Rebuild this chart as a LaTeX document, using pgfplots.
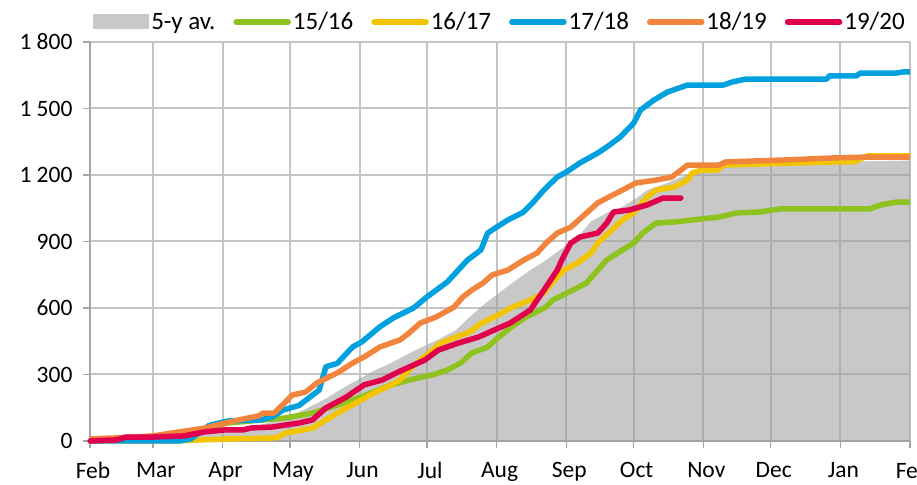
\documentclass[border=0pt]{standalone}
\usepackage{pgfplots}
\pgfplotsset{compat=1.18}
\usepackage{fontspec}
\setmainfont{Carlito}
\definecolor{cgreen}{RGB}{141,194,31}
\definecolor{cyellow}{RGB}{242,197,0}
\definecolor{cblue}{RGB}{0,161,222}
\definecolor{corange}{RGB}{241,133,61}
\definecolor{cred}{RGB}{224,0,77}
\definecolor{cavg}{RGB}{161,161,161}
\definecolor{cavgleg}{RGB}{200,200,200}
\definecolor{cgrid}{RGB}{196,196,196}
\definecolor{caxis}{RGB}{165,165,165}
\pgfplotsset{mylineleg/.style={legend image code/.code={\draw[line width=5.5pt, line cap=round] (2pt,0pt) -- (54pt,0pt);}}}
\begin{document}
\begin{tikzpicture}
\begin{axis}[
  scale only axis, width=820pt, height=399pt,
  xmin=0, xmax=365, ymin=0, ymax=1800,
  clip=false,
  axis lines*=left, axis line style={-, color=caxis, line width=1.5pt},
  grid=major, major grid style={color=cgrid, line width=2pt},
  tick align=outside, major tick length=7pt,
  tick style={color=caxis, line width=1.5pt},
  xtick={0,28,59,89,120,150,181,212,242,273,303,334,365},
  xticklabels={Feb,Mar,Apr,May,Jun,Jul,Aug,Sep,Oct,Nov,Dec,Jan,Feb},
  ytick={0,300,600,900,1200,1500,1800},
  yticklabels={0,300,600,900,1 200,1 500,1 800},
  ticklabel style={font=\fontsize{23.5}{26}\selectfont},
  xticklabel style={yshift=-11pt, xshift=3pt},
  yticklabel style={xshift=-7pt},
  legend columns=6,
  legend style={draw=none, fill=none, at={(0.5,1.05)}, anchor=center,
    font=\fontsize{25}{27}\selectfont, inner sep=0pt,
    /tikz/every even column/.append style={column sep=16pt},
    nodes={inner sep=2pt}},
]
\coordinate (bl) at (rel axis cs:0,0);
\coordinate (tr) at (rel axis cs:1,1);
\addplot[draw=none, fill=cavg, fill opacity=0.585,
  legend image code/.code={\fill[cavgleg, fill opacity=1] (0pt,-7pt) rectangle (56pt,8pt);}]
coordinates {(0,0) (15,5) (28,12) (45,25) (58,40) (75,70) (89,110) (97,150) (104,185) (112,235) (119,275) (126,315) (134,352) (141,390) (148,424) (156,462) (163,501) (168,550) (174,604) (181,660) (188,713) (196,771) (203,816) (210,868) (218,930) (223,990) (230,1029) (237,1056) (244,1101) (248,1132) (257,1164) (263,1191) (268,1209) (276,1218) (281,1240) (298,1250) (325,1258) (365,1265)} \closedcycle;
\addlegendentry{5-y av.}
\addplot[color=cgreen, line width=5.5pt, line join=round, mylineleg]
coordinates {(0,0) (14,8) (28,18) (49,50) (61,81) (87,104) (99,126) (110,162) (121,200) (134,253) (144,280) (153,300) (159,320) (165,352) (170,397) (177,424) (182,469) (187,510) (194,559) (203,604) (206,636) (215,681) (221,713) (226,771) (230,816) (237,862) (242,893) (246,938) (252,983) (260,988) (268,997) (276,1006) (280,1010) (288,1029) (298,1033) (307,1047) (347,1047) (352,1065) (359,1078) (365,1078)};
\addlegendentry{15/16}
\addplot[color=cyellow, line width=5.5pt, line join=round, mylineleg]
coordinates {(0,0) (37,0) (49,5) (61,9) (83,14) (87,36) (99,58) (105,95) (114,149) (119,175) (126,215) (134,253) (138,275) (142,320) (147,365) (151,397) (156,442) (163,469) (169,492) (174,530) (181,565) (188,604) (196,636) (202,668) (208,740) (211,771) (217,803) (223,848) (226,893) (231,940) (237,997) (242,1029) (248,1101) (252,1132) (260,1146) (266,1177) (268,1209) (272,1222) (279,1222) (282,1245) (331,1259) (340,1259) (346,1286) (365,1286)};
\addlegendentry{16/17}
\addplot[color=cblue, line width=5.5pt, line join=round, mylineleg]
coordinates {(0,0) (40,0) (45,10) (49,40) (53,70) (61,90) (76,95) (81,108) (86,140) (93,160) (102,230) (105,335) (110,350) (117,425) (121,447) (129,515) (135,555) (144,600) (150,650) (159,717) (168,816) (174,862) (177,938) (181,965) (186,997) (193,1033) (197,1074) (202,1132) (208,1191) (212,1213) (218,1254) (226,1299) (230,1326) (236,1371) (242,1434) (245,1493) (251,1538) (257,1574) (266,1606) (282,1606) (286,1620) (292,1633) (328,1633) (329,1647) (341,1647) (343,1660) (359,1660) (362,1665) (365,1665)};
\addlegendentry{17/18}
\addplot[color=corange, line width=5.5pt, line join=round, mylineleg]
coordinates {(0,10) (12,14) (28,23) (39,40) (51,58) (60,81) (68,99) (75,113) (77,126) (82,126) (87,176) (90,207) (96,221) (101,262) (110,307) (117,352) (122,379) (129,424) (138,456) (142,487) (147,532) (154,559) (162,604) (166,650) (170,681) (175,713) (179,749) (186,771) (193,816) (199,848) (203,893) (208,938) (214,965) (219,1010) (226,1074) (231,1101) (237,1132) (243,1164) (252,1177) (259,1191) (263,1222) (266,1245) (280,1245) (283,1259) (310,1268) (331,1277) (346,1281) (365,1281)};
\addlegendentry{18/19}
\addplot[color=cred, line width=5.5pt, line join=round, line cap=round, mylineleg]
coordinates {(0,0) (12,5) (16,18) (28,18) (42,23) (51,41) (60,50) (68,50) (72,59) (81,63) (87,72) (93,81) (99,95) (105,149) (114,198) (122,253) (130,275) (139,320) (149,365) (155,410) (164,442) (173,469) (180,501) (187,532) (196,591) (203,695) (208,771) (210,816) (214,893) (218,920) (226,938) (230,983) (233,1033) (240,1042) (248,1065) (255,1096) (263,1096)};
\addlegendentry{19/20}
\end{axis}
\pgfresetboundingbox
\path[use as bounding box] ([shift={(-90pt,-44pt)}]bl) rectangle ([shift={(7pt,42pt)}]tr);
\end{tikzpicture}
\end{document}
